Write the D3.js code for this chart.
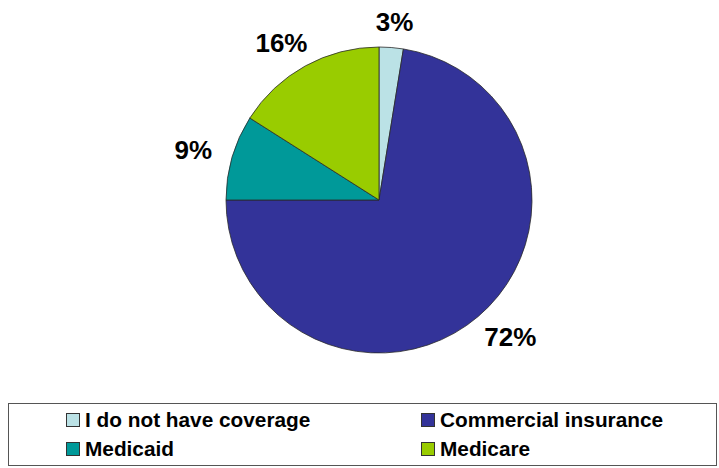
<!DOCTYPE html>
<html>
<head>
<meta charset="utf-8">
<script src="https://cdn.jsdelivr.net/npm/d3@7"></script>
<style>
  html, body { margin: 0; padding: 0; background: #fff; }
  svg { display: block; }
  text { font-family: "Liberation Sans", Arial, sans-serif; font-weight: bold; fill: #000; }
</style>
</head>
<body>
<svg id="chart" width="719" height="468"></svg>
<script>
const categories = ["I do not have coverage", "Commercial insurance", "Medicaid", "Medicare"];
const values = [2.55, 72.45, 9.0, 16.0];
const colors = ["#BBE2E6", "#333399", "#009999", "#99CC00"];

const svg = d3.select("#chart");
const cx = 379, cy = 200, R = 153;

const pie = d3.pie().sort(null).value(d => d.value);
const data = categories.map((c, i) => ({ name: c, value: values[i], color: colors[i] }));
const arcs = pie(data);
const arc = d3.arc().innerRadius(0).outerRadius(R);

const g = svg.append("g").attr("transform", `translate(${cx},${cy})`);
g.selectAll("path.slice")
  .data(arcs)
  .enter().append("path")
  .attr("class", "slice")
  .attr("d", arc)
  .attr("fill", d => d.data.color)
  .attr("stroke", "#2a2a2a")
  .attr("stroke-width", 0.8)
  .attr("stroke-linejoin", "round");

// Labels outside the pie
const fs = 26;
const labels = g.selectAll("text.lbl")
  .data(arcs)
  .enter().append("text")
  .attr("class", "lbl")
  .attr("font-size", fs)
  .attr("text-anchor", "middle")
  .text(d => Math.round(d.data.value) + "%");

labels.each(function(d) {
  const bb = this.getBBox();
  const w = bb.width, h = fs * 0.72;
  const a = (d.startAngle + d.endAngle) / 2;
  const s = Math.sin(a), c = -Math.cos(a);
  const r0 = R + 17;
  const px = r0 * s + s * w / 2 * 1.25;
  const py = r0 * c + c * h / 2;
  d3.select(this).attr("x", px).attr("y", py + h / 2);
});

// Legend
const legend = svg.append("g");
legend.append("rect")
  .attr("x", 8.5).attr("y", 403.5)
  .attr("width", 708).attr("height", 62)
  .attr("fill", "#fff")
  .attr("stroke", "#555").attr("stroke-width", 1);

const colX = [66, 421];
const rowY = [413, 442];
data.forEach((d, i) => {
  const x = colX[i % 2], y = rowY[Math.floor(i / 2)];
  legend.append("rect")
    .attr("x", x + 0.5).attr("y", y + 0.5)
    .attr("width", 13).attr("height", 13)
    .attr("fill", d.color)
    .attr("stroke", "#333").attr("stroke-width", 1);
  legend.append("text")
    .attr("x", x + 19).attr("y", y + 14)
    .attr("font-size", 20.8)
    .text(d.name);
});
</script>
</body>
</html>
